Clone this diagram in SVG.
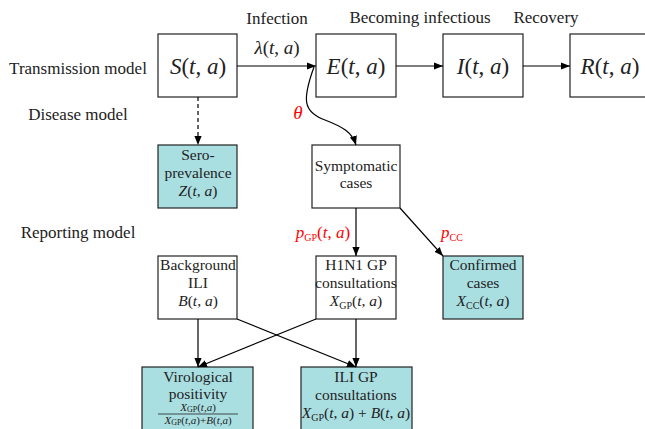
<svg xmlns="http://www.w3.org/2000/svg" width="645" height="429" viewBox="0 0 645 429">
<defs>
<marker id="ah" viewBox="0 0 10 10" refX="10" refY="5" markerWidth="9" markerHeight="9" markerUnits="userSpaceOnUse" orient="auto">
<path d="M0,1 L10,5 L0,9 Z" fill="#000"/>
</marker>
</defs>
<style>
text{font-family:'Liberation Serif',serif;fill:#222;text-anchor:middle}
.box{fill:#fff;stroke:#222;stroke-width:1.2}
.obs{fill:#aadfe2;stroke:#222;stroke-width:1.2}
.big{font-size:23px}
.lbl{font-size:17px}
.mth{font-size:19px}
.bt{font-size:15.5px}
.red{fill:#ff0000}
.i{font-style:italic}
.sub{font-size:10px}
.conn{fill:none;stroke:#000;stroke-width:1.2;marker-end:url(#ah)}
</style>
<rect width="645" height="429" fill="#fff"/>

<g id="labels" font-family="Liberation Serif">
<text class="lbl" x="78" y="74">Transmission model</text>
<text class="lbl" x="78" y="120">Disease model</text>
<text class="lbl" x="78" y="238">Reporting model</text>
<text class="lbl" x="277" y="24">Infection</text>
<text class="lbl" x="420" y="23">Becoming infectious</text>
<text class="lbl" x="546" y="23">Recovery</text>
<text class="mth" x="277" y="54"><tspan class="i">λ</tspan>(<tspan class="i">t</tspan>, <tspan class="i">a</tspan>)</text>
<text class="mth red" x="298" y="119"><tspan class="i">θ</tspan></text>
<text class="lbl red" x="323" y="238"><tspan class="i">p</tspan><tspan class="sub" dy="3">GP</tspan><tspan dy="-3">(</tspan><tspan class="i">t</tspan>, <tspan class="i">a</tspan>)</text>
<text class="lbl red" x="452" y="238"><tspan class="i">p</tspan><tspan class="sub" dy="3">CC</tspan></text>
</g>

<g id="S">
<rect class="box" x="158" y="34" width="79" height="63"/>
<text class="big" x="198" y="74"><tspan class="i">S</tspan>(<tspan class="i">t</tspan>, <tspan class="i">a</tspan>)</text>
</g>
<g id="E">
<rect class="box" x="316" y="34" width="80" height="63"/>
<text class="big" x="356" y="74"><tspan class="i">E</tspan>(<tspan class="i">t</tspan>, <tspan class="i">a</tspan>)</text>
</g>
<g id="I">
<rect class="box" x="443" y="34" width="80" height="63"/>
<text class="big" x="483" y="74"><tspan class="i">I</tspan>(<tspan class="i">t</tspan>, <tspan class="i">a</tspan>)</text>
</g>
<g id="R">
<rect class="box" x="570" y="34" width="80" height="63"/>
<text class="big" x="610" y="74"><tspan class="i">R</tspan>(<tspan class="i">t</tspan>, <tspan class="i">a</tspan>)</text>
</g>

<g id="sero">
<rect class="obs" x="158" y="145" width="79" height="63"/>
<text class="bt" x="198" y="160">Sero-</text>
<text class="bt" x="198" y="178">prevalence</text>
<text class="bt" x="198" y="196"><tspan class="i">Z</tspan>(<tspan class="i">t</tspan>, <tspan class="i">a</tspan>)</text>
</g>
<g id="symptomatic">
<rect class="box" x="312" y="145" width="88" height="63"/>
<text class="bt" x="356" y="171">Symptomatic</text>
<text class="bt" x="356" y="188">cases</text>
</g>
<g id="background">
<rect class="box" x="158" y="256" width="79" height="63"/>
<text class="bt" x="198" y="270">Background</text>
<text class="bt" x="198" y="288">ILI</text>
<text class="bt" x="198" y="306"><tspan class="i">B</tspan>(<tspan class="i">t</tspan>, <tspan class="i">a</tspan>)</text>
</g>
<g id="h1n1">
<rect class="box" x="316" y="256" width="80" height="63"/>
<text class="bt" x="356" y="270">H1N1 GP</text>
<text class="bt" x="356" y="288">consultations</text>
<text class="bt" x="356" y="306"><tspan class="i">X</tspan><tspan class="sub" dy="3">GP</tspan><tspan dy="-3">(</tspan><tspan class="i">t</tspan>, <tspan class="i">a</tspan>)</text>
</g>
<g id="confirmed">
<rect class="obs" x="443" y="256" width="80" height="63"/>
<text class="bt" x="483" y="270">Confirmed</text>
<text class="bt" x="483" y="288">cases</text>
<text class="bt" x="483" y="306"><tspan class="i">X</tspan><tspan class="sub" dy="3">CC</tspan><tspan dy="-3">(</tspan><tspan class="i">t</tspan>, <tspan class="i">a</tspan>)</text>
</g>
<g id="virological">
<rect class="obs" x="142" y="367" width="111" height="70"/>
<text class="bt" x="198" y="382">Virological</text>
<text class="bt" x="198" y="399">positivity</text>
<text x="198" y="410.5" font-size="11"><tspan class="i">X</tspan><tspan font-size="8" dy="1.5">GP</tspan><tspan dy="-1.5">(</tspan><tspan class="i">t</tspan>,<tspan class="i">a</tspan>)</text>
<line x1="158" y1="414" x2="238" y2="414" stroke="#222" stroke-width="0.8"/>
<text x="198" y="423.5" font-size="11"><tspan class="i">X</tspan><tspan font-size="8" dy="1.5">GP</tspan><tspan dy="-1.5">(</tspan><tspan class="i">t</tspan>,<tspan class="i">a</tspan>)+<tspan class="i">B</tspan>(<tspan class="i">t</tspan>,<tspan class="i">a</tspan>)</text>
</g>
<g id="iligp">
<rect class="obs" x="301" y="367" width="111" height="70"/>
<text class="bt" x="356" y="382">ILI GP</text>
<text class="bt" x="356" y="400">consultations</text>
<text class="bt" x="356" y="418"><tspan class="i">X</tspan><tspan class="sub" dy="3">GP</tspan><tspan dy="-3">(</tspan><tspan class="i">t</tspan>, <tspan class="i">a</tspan>) + <tspan class="i">B</tspan>(<tspan class="i">t</tspan>, <tspan class="i">a</tspan>)</text>
</g>

<g id="connectors">
<line class="conn" x1="237" y1="66" x2="316" y2="66"/>
<line class="conn" x1="396" y1="66" x2="443" y2="66"/>
<line class="conn" x1="523" y1="66" x2="570" y2="66"/>
<line class="conn" x1="198" y1="97" x2="198" y2="145" stroke-dasharray="4,3"/>
<path class="conn" d="M314,67 C302,100 303,112 325,120 C343,127 352,132 356,145"/>
<line class="conn" x1="356" y1="208" x2="356" y2="256"/>
<line class="conn" x1="400" y1="208" x2="443" y2="256"/>
<line class="conn" x1="198" y1="319" x2="198" y2="367"/>
<line class="conn" x1="237" y1="319" x2="356" y2="367"/>
<line class="conn" x1="316" y1="319" x2="198" y2="367"/>
<line class="conn" x1="356" y1="319" x2="356" y2="367"/>
</g>
</svg>
